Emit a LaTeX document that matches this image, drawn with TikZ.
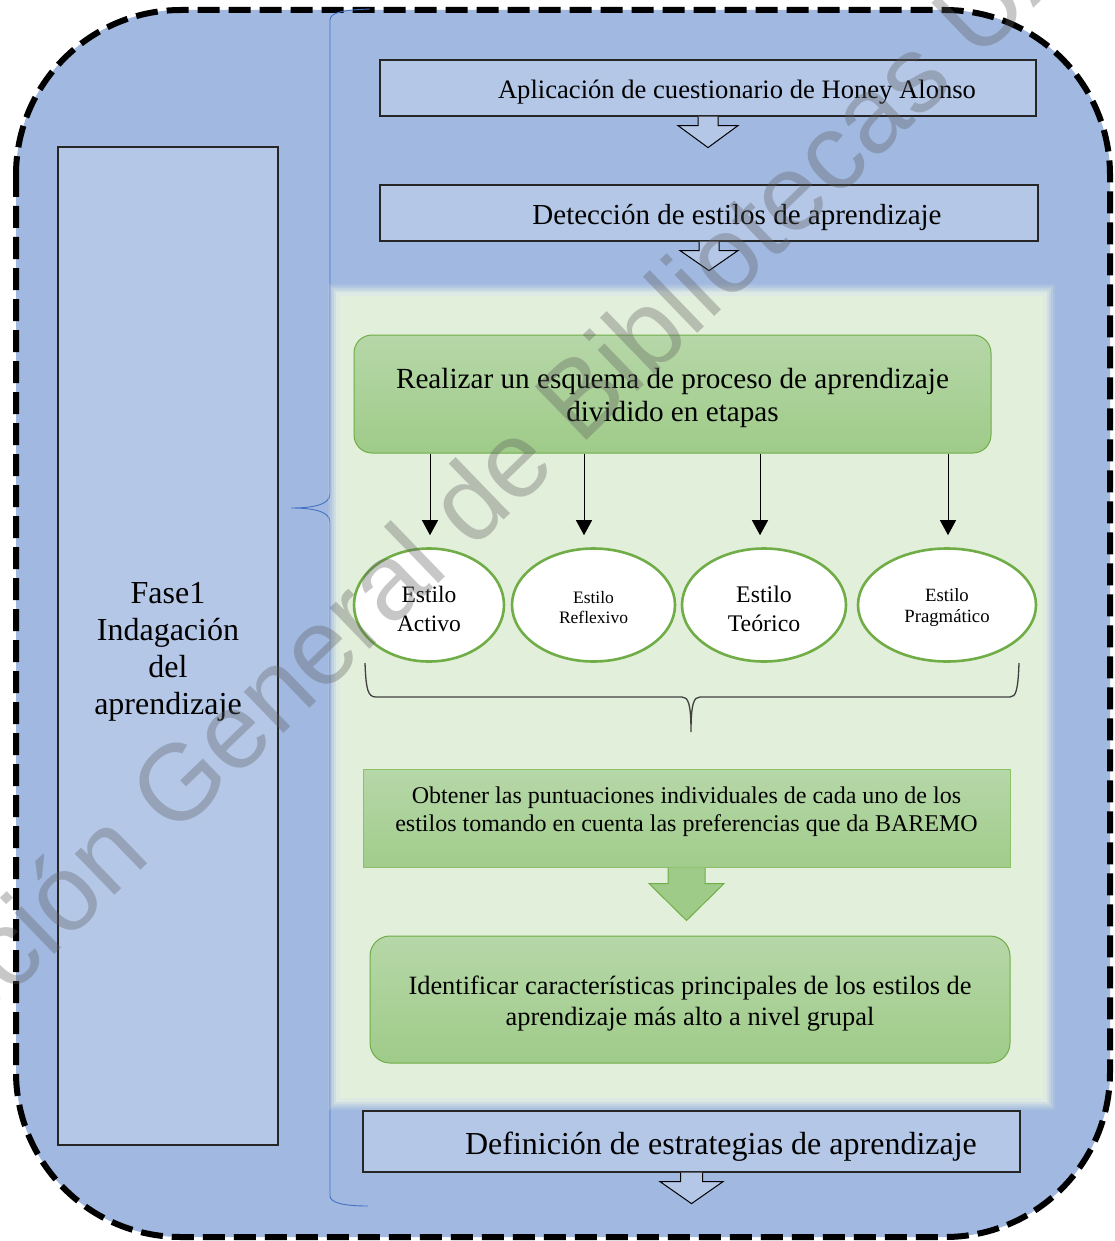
\documentclass[tikz,border=0pt]{standalone}
\usepackage{fontspec}
\setmainfont{Liberation Serif}
\newfontfamily\wmfont{Liberation Sans}
\usetikzlibrary{arrows.meta,shapes.geometric,calc}
\definecolor{outerblue}{HTML}{A1B8E0}
\definecolor{lightblue}{HTML}{B4C7E7}
\definecolor{palegreen}{HTML}{E2EFDA}
\definecolor{gtop}{HTML}{B6D7A8}
\definecolor{gbot}{HTML}{9FCB89}
\definecolor{gborder}{HTML}{70AD47}
\definecolor{gborderlight}{HTML}{8CC168}
\definecolor{bracecol}{HTML}{4472C4}
\definecolor{wmgray}{HTML}{5D5D5D}
\newcommand\mkdownarrow[6]{%
  \draw[#6, shift={(#1)}] (-#2,0) -- (-#2,#4) -- (-#3,#4) -- (0,#5) -- (#3,#4) -- (#2,#4) -- (#2,0);}
\newcommand\tallstrut{\rule{0pt}{1em}}
\begin{document}
\begin{tikzpicture}[x=1pt,y=-1pt,
  bluebox/.style={draw=black!85, line width=1.2pt, fill=lightblue, inner sep=0pt, align=center},
  greenround/.style={draw=gborder, line width=1pt, rounded corners=18pt, top color=gtop, bottom color=gbot, inner sep=0pt, align=center},
  greenrect/.style={draw=gborderlight, line width=1pt, top color=gtop, bottom color=gbot!90!gtop, inner sep=0pt, align=center},
  styleell/.style={ellipse, draw=gborder, line width=2.6pt, fill=white, inner sep=0pt, align=center},
  harrow/.style={draw=black, line width=1pt, fill=lightblue, line join=miter},
  garrow/.style={draw=gborder, line width=1pt, fill=gbot, line join=miter},
  thinarr/.style={draw=black, line width=1pt, -{Triangle[width=16pt,length=15pt]}},
  bracestyle/.style={draw=bracecol, line width=0.9pt},
  hbrace/.style={draw=black!75, line width=1.3pt}]
\useasboundingbox (0,0) rectangle (1114,1241);
\fill[white] (0,0) rectangle (1114,1241);
% outer dashed frame
\draw[line width=6pt, dash pattern=on 22pt off 9pt, fill=outerblue, rounded corners=165pt] (16,10) rectangle (1110,1237);
% left phase box
\node[bluebox, minimum width=220pt, minimum height=998pt, font=\fontsize{32}{37}\selectfont] (fase) at (168,646) {\tallstrut Fase1\\Indagación\\del\\aprendizaje};
% left brace
\draw[bracestyle] (370,9) .. controls (345,10) and (330,12) .. (330,20) -- (330,494)
  .. controls (330,505) and (312,508) .. (291,508) .. controls (312,508) and (330,511) .. (330,522)
  -- (330,1196) .. controls (330,1203) and (345,1206) .. (368,1206);
% green background with soft edge
\foreach \g/\o in {10/0.12,8/0.18,6/0.25,4/0.35,2/0.5}{
  \fill[palegreen!70!white, opacity=\o] (338-\g,294-\g) rectangle (1045+\g,1100+\g);}
\fill[palegreen] (340,296) rectangle (1043,1098);
% top boxes
\node[bluebox, minimum width=656pt, minimum height=56pt, font=\fontsize{26.6}{30}\selectfont] (b1) at (708,88) {\hspace*{58pt}\tallstrut Aplicación de cuestionario de Honey Alonso};
\node[bluebox, minimum width=658pt, minimum height=56pt, font=\fontsize{29}{32}\selectfont] (b2) at (709,213) {\hspace*{56pt}\tallstrut Detección de estilos de aprendizaje};
\mkdownarrow{b1.south}{10}{30}{9}{31}{harrow}
\mkdownarrow{b2.south}{10}{29}{9}{29}{harrow}
% Realizar box
\node[greenround, minimum width=637pt, minimum height=118pt, font=\fontsize{29.2}{33}\selectfont] (real) at (672.5,394) {\tallstrut Realizar un esquema de proceso de aprendizaje\\dividido en etapas};
% ellipses
\node[styleell, minimum width=150pt, minimum height=113pt, font=\fontsize{23.5}{29}\selectfont] (act) at (429,605) {\tallstrut Estilo\\Activo};
\node[styleell, minimum width=163pt, minimum height=113pt, font=\fontsize{17.5}{20}\selectfont] (ref) at (593.5,605) {\tallstrut Estilo\\Reflexivo};
\node[styleell, minimum width=164pt, minimum height=113pt, font=\fontsize{23.8}{29}\selectfont] (teo) at (764,605) {\tallstrut Estilo\\Teórico};
\node[styleell, minimum width=178pt, minimum height=113pt, font=\fontsize{18.7}{21}\selectfont] (pra) at (947,605) {\tallstrut Estilo\\Pragmático};
% arrows to ellipses
\draw[thinarr] ($(real.south)+(-242.5,0)$) -- ($(act.north)+(1,-12)$);
\draw[thinarr] ($(real.south)+(-88.5,0)$) -- ($(ref.north)+(-9.5,-12)$);
\draw[thinarr] ($(real.south)+(87.5,0)$) -- ($(teo.north)+(-4,-12)$);
\draw[thinarr] ($(real.south)+(275.5,0)$) -- ($(pra.north)+(1,-12)$);
% horizontal brace under ellipses
\coordinate (brtip) at (691,732);
\draw[hbrace] (365,663) .. controls (366,690) and (368,697) .. (376,697) -- (682,697)
  .. controls (688,697) and (691,703) .. (brtip) .. controls (691,703) and (694,697) .. (700,697)
  -- (1010,697) .. controls (1016,697) and (1018,690) .. (1019,663);
% Obtener box
\node[greenrect, minimum width=647pt, minimum height=98pt,
  label={[font=\fontsize{24}{28}\selectfont, align=center, yshift=6pt, inner sep=0pt]center:Obtener las puntuaciones individuales de cada uno de los\\estilos tomando en cuenta las preferencias que da BAREMO}] (obt) at (686.5,818) {};
\mkdownarrow{obt.south}{18.5}{37.5}{16}{53}{garrow}
% Identificar box
\node[greenround, rounded corners=20pt, minimum width=640pt, minimum height=127pt, font=\fontsize{26.4}{30.5}\selectfont] (ide) at (690,999.5) {\tallstrut Identificar características principales de los estilos de\\aprendizaje más alto a nivel grupal};
% Definicion box
\node[bluebox, minimum width=657pt, minimum height=61pt, font=\fontsize{32}{34}\selectfont] (def) at (691.5,1141.5) {\hspace*{59pt}\tallstrut Definición de estrategias de aprendizaje};
\mkdownarrow{def.south}{11}{31.5}{9}{31}{harrow}
% watermark
\node[rotate=44, anchor=base west, font=\wmfont\fontsize{108}{108}\selectfont, text=wmgray, text opacity=0.34, inner sep=0pt] (wm) at (-171,1172) {Dirección General de Bibliotecas UAQ};
\end{tikzpicture}
\end{document}
